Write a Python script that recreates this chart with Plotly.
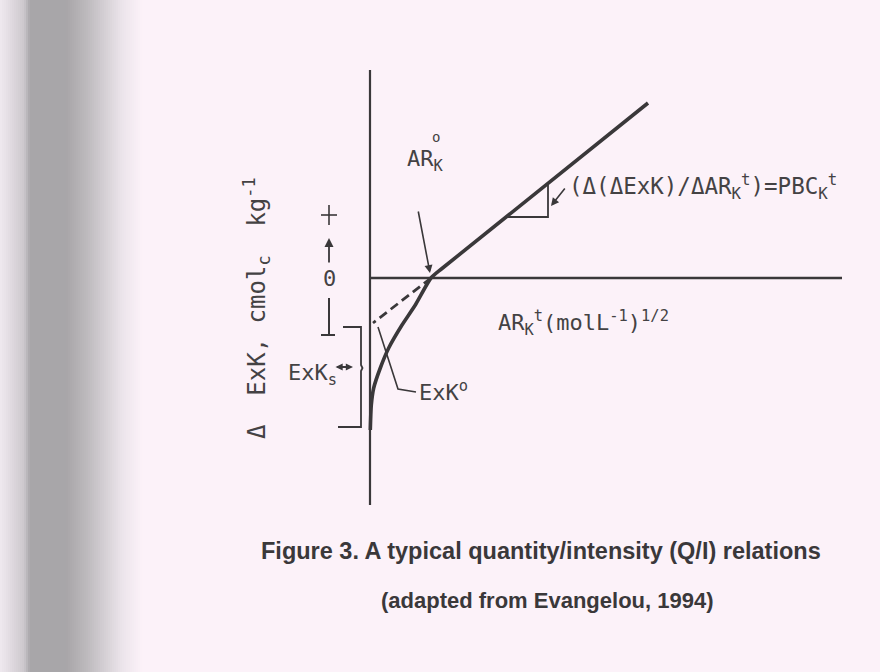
import plotly.graph_objects as go

# ---------------- data (diagram units: origin at axis crossing) ----------------
# vertical axis (Delta ExK) and horizontal axis (AR_K)
vaxis_x = [0.0, 0.0]
vaxis_y = [2.08, -2.27]
haxis_x = [0.0, 4.72]
haxis_y = [0.0, 0.0]

# Q/I curve: curved part then linear part
curve_x = [0.003, 0.013, 0.037, 0.103, 0.187, 0.32, 0.453, 0.61, 0.72, 2.78]
curve_y = [-1.52, -1.27, -1.10, -0.90, -0.70, -0.47, -0.27, 0.00, 0.095, 1.75]

# extrapolation of linear part (dashed) to the ExK axis
dash_x = [0.61, 0.03]
dash_y = [0.00, -0.45]

# slope triangle
tri_x = [1.36, 1.78, 1.78]
tri_y = [0.61, 0.61, 0.95]

# left scale (+ / 0 / -)
scale_x = -0.41
plus_y = 0.63
zero_y = 0.0
minus_top = -0.20
minus_bot = -0.57

# ExK_s bracket
br_x = [-0.27, -0.09, -0.09, -0.075, -0.09, -0.09, -0.32]
br_y = [-0.49, -0.49, -0.87, -0.90, -0.93, -1.49, -1.49]

# ExK° leader line
lead_x = [0.08, 0.28, 0.46]
lead_y = [-0.49, -1.11, -1.14]

# label texts
lbl_ark = "AR<sub>K</sub>"
lbl_deg = "o"
lbl_pbc = "(Δ(ΔExK)/ΔAR<sub>K</sub><sup>t</sup>)=PBC<sub>K</sub><sup>t</sup>"
lbl_xaxis = "AR<sub>K</sub><sup>t</sup>(molL<sup>-1</sup>)<sup>1/2</sup>"
lbl_yaxis = "Δ  ExK, cmol<sub>c</sub>  kg<sup>-1</sup>"
lbl_exks = "ExK<sub>s</sub>"
lbl_exko = "ExK<sup>o</sup>"
caption1 = "Figure 3. A typical quantity/intensity (Q/I) relations"
caption2 = "(adapted from Evangelou, 1994)"

# ---------------- figure ----------------
INK = "#3a383a"
LAB = "#444244"
BG = "#fcf2f9"
LFONT = dict(family="DejaVu Sans Mono, Liberation Mono, monospace", size=22, color=LAB)

fig = go.Figure()

def line(x, y, w=2.2, dash=None, shape="linear", smooth=None):
    ln = dict(color=INK, width=w, shape=shape)
    if dash:
        ln["dash"] = dash
    if smooth is not None:
        ln["smoothing"] = smooth
    fig.add_trace(go.Scatter(x=x, y=y, mode="lines", line=ln,
                             hoverinfo="skip", showlegend=False))

line(vaxis_x, vaxis_y, 2.2)
line(haxis_x, haxis_y, 2.6)
line(curve_x, curve_y, 3.6, shape="spline", smooth=0.6)
line(dash_x, dash_y, 2.8, dash="9px,5px")
line(tri_x, tri_y, 1.8)
line(br_x, br_y, 1.8)
line(lead_x, lead_y, 1.6)
# + sign
line([scale_x, scale_x], [plus_y + 0.10, plus_y - 0.10], 1.6)
line([scale_x - 0.08, scale_x + 0.08], [plus_y, plus_y], 1.6)
# - side
line([scale_x, scale_x], [minus_top, minus_bot], 2.0)
line([scale_x - 0.08, scale_x + 0.06], [minus_bot, minus_bot], 2.0)

ann = []
# up arrow of scale
ann.append(dict(x=scale_x, y=0.40, ax=scale_x, ay=0.14, xref="x", yref="y",
                axref="x", ayref="y", showarrow=True, arrowhead=2, arrowsize=1,
                arrowwidth=1.8, arrowcolor=INK, text=""))
# ExK_s double arrow
ann.append(dict(x=-0.17, y=-0.89, ax=-0.36, ay=-0.89, xref="x", yref="y",
                axref="x", ayref="y", showarrow=True, arrowhead=2, arrowside="end+start",
                arrowsize=0.8, arrowwidth=1.8, arrowcolor=INK, text=""))
# AR_K° arrow
ann.append(dict(x=0.60, y=0.05, ax=0.48, ay=0.68, xref="x", yref="y",
                axref="x", ayref="y", showarrow=True, arrowhead=2, arrowsize=1,
                arrowwidth=1.6, arrowcolor=INK, text=""))
# PBC arrow
ann.append(dict(x=1.81, y=0.72, ax=1.96, ay=0.91, xref="x", yref="y",
                axref="x", ayref="y", showarrow=True, arrowhead=2, arrowsize=1,
                arrowwidth=1.6, arrowcolor=INK, text=""))

# labels
ann.append(dict(x=scale_x, y=zero_y, text="0", showarrow=False, font=LFONT,
                xref="x", yref="y"))
ann.append(dict(x=0.35, y=1.18, text=lbl_ark, showarrow=False, font=LFONT,
                xref="x", yref="y", xanchor="left"))
ann.append(dict(x=0.66, y=1.41, text=lbl_deg, showarrow=False,
                font=dict(family=LFONT["family"], size=14, color=LAB),
                xref="x", yref="y"))
ann.append(dict(x=1.97, y=0.92, text=lbl_pbc, showarrow=False,
                font=dict(family=LFONT["family"], size=22.5, color=LAB),
                xref="x", yref="y", xanchor="left"))
ann.append(dict(x=1.26, y=-0.45, text=lbl_xaxis, showarrow=False, font=LFONT,
                xref="x", yref="y", xanchor="left"))
ann.append(dict(x=-0.31, y=-0.96, text=lbl_exks, showarrow=False, font=LFONT,
                xref="x", yref="y", xanchor="right"))
ann.append(dict(x=0.47, y=-1.13, text=lbl_exko, showarrow=False, font=LFONT,
                xref="x", yref="y", xanchor="left"))
ann.append(dict(x=-1.14, y=-0.30, text=lbl_yaxis, showarrow=False,
                font=dict(family=LFONT["family"], size=24, color=LAB),
                xref="x", yref="y", textangle=-90))
# caption
CFONT = dict(family="Liberation Sans Narrow, Arial Narrow, Liberation Sans, Arial",
             size=23.5, color="#3a383a", weight="bold")
CFONT2 = dict(CFONT, size=22)
ann.append(dict(x=0.615, y=0.180, xref="paper", yref="paper", text=caption1,
                showarrow=False, font=CFONT, yanchor="middle", xanchor="center"))
ann.append(dict(x=0.622, y=0.107, xref="paper", yref="paper", text=caption2,
                showarrow=False, font=CFONT2, yanchor="middle", xanchor="center"))

# scanned page shading on the left edge (styling only)
stops = [(0, (240, 234, 240)), (10, (226, 220, 226)), (24, (205, 200, 205)),
         (30, (168, 166, 169)), (66, (168, 166, 169)), (86, (188, 185, 188)),
         (104, (212, 207, 212)), (122, (236, 229, 235)), (142, (252, 242, 249))]
shapes = []
for i in range(len(stops) - 1):
    x0, c0 = stops[i]
    x1, c1 = stops[i + 1]
    n = max(1, (x1 - x0) // 2)
    for k in range(n):
        a = x0 + (x1 - x0) * k / n
        b = x0 + (x1 - x0) * (k + 1) / n
        t = (k + 0.5) / n
        c = tuple(int(c0[j] + (c1[j] - c0[j]) * t) for j in range(3))
        shapes.append(dict(type="rect", xref="paper", yref="paper",
                           x0=a / 880, x1=b / 880 + 0.0006, y0=0, y1=1,
                           line=dict(width=0), fillcolor="rgb(%d,%d,%d)" % c,
                           layer="below"))

fig.update_layout(
    width=880, height=672,
    margin=dict(l=0, r=0, t=0, b=0),
    paper_bgcolor=BG, plot_bgcolor=BG,
    xaxis=dict(range=[-3.70, 5.10], visible=False, fixedrange=True),
    yaxis=dict(range=[-3.94, 2.78], visible=False, fixedrange=True),
    annotations=ann, shapes=shapes, showlegend=False,
)

fig.write_html("out.html", config={"displayModeBar": False},
               post_script="document.body.style.margin='0';"
                           "document.body.style.background='#fcf2f9';")
